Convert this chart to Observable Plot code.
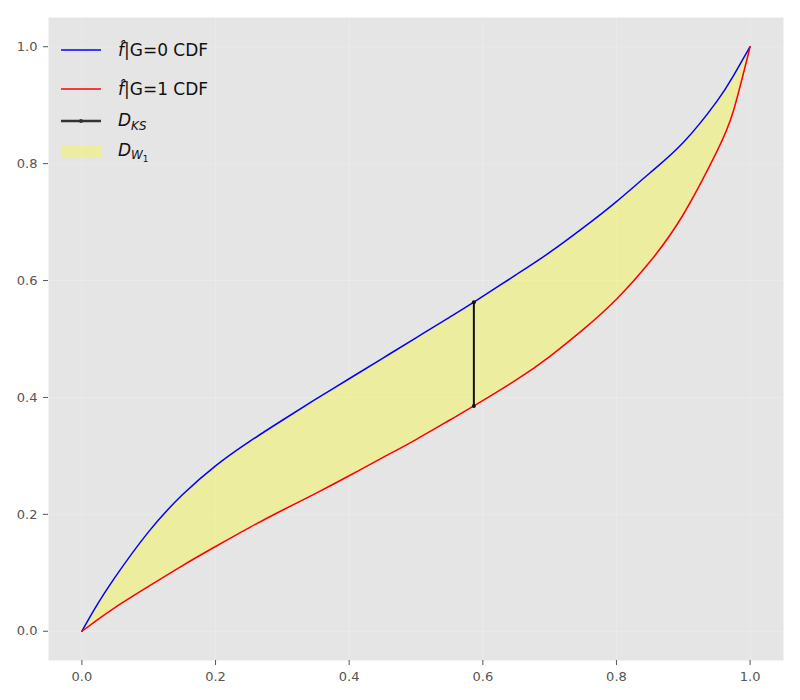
<!DOCTYPE html>
<html>
<head>
<meta charset="utf-8">
<script src="https://cdn.jsdelivr.net/npm/d3@7"></script>
<script src="https://cdn.jsdelivr.net/npm/@observablehq/plot@0.6"></script>
<style>
  body { margin: 0; background: #fff; font-family: "DejaVu Sans", sans-serif; }
  #wrap { position: relative; width: 800px; height: 700px; }
  #legend { position: absolute; left: 60px; top: 30px; font-family: "DejaVu Sans", sans-serif; font-size: 17px; color: #111; }
  .row { position: absolute; left: 0; height: 24px; display: flex; align-items: center; white-space: nowrap; }
  .row svg { margin-right: 16px; }
  .m { font-style: italic; }
  sub { font-size: 70%; vertical-align: -0.3em; }
  sub sub { font-size: 75%; vertical-align: -0.3em; font-style: normal; }
</style>
</head>
<body>
<div id="wrap">
  <div id="chart"></div>
  <div id="legend">
    <div class="row" style="top:8px"><svg width="42" height="10"><line x1="1" x2="41" y1="5" y2="5" stroke="blue" stroke-width="1.5"/></svg><span><span class="m">f&#770;</span>|G=0 CDF</span></div>
    <div class="row" style="top:47px"><svg width="42" height="10"><line x1="1" x2="41" y1="5" y2="5" stroke="red" stroke-width="1.5"/></svg><span><span class="m">f&#770;</span>|G=1 CDF</span></div>
    <div class="row" style="top:79px"><svg width="42" height="10"><line x1="1" x2="41" y1="5" y2="5" stroke="#333" stroke-width="2.5"/><circle cx="21" cy="5" r="2" fill="#333"/></svg><span><span class="m">D</span><sub class="m">KS</sub></span></div>
    <div class="row" style="top:110px"><svg width="42" height="14"><rect x="1" y="1" width="40" height="12" fill="yellow" fill-opacity="0.3"/></svg><span><span class="m">D</span><sub class="m">W<sub>1</sub></sub></span></div>
  </div>
</div>
<script>
const xs    = [0, 0.02, 0.05, 0.1, 0.15, 0.2, 0.25, 0.3, 0.35, 0.4, 0.45, 0.5, 0.55, 0.5866, 0.65, 0.7, 0.75, 0.8, 0.85, 0.9, 0.95, 0.975, 1];
const cdfG0 = [0, 0.040, 0.093, 0.1705, 0.233, 0.283, 0.324, 0.361, 0.397, 0.432, 0.467, 0.502, 0.537, 0.563, 0.610, 0.648, 0.690, 0.735, 0.784, 0.836, 0.906, 0.950, 1];
const cdfG1 = [0, 0.017, 0.041, 0.077, 0.112, 0.145, 0.177, 0.207, 0.236, 0.266, 0.297, 0.328, 0.361, 0.3855, 0.430, 0.470, 0.516, 0.568, 0.632, 0.713, 0.820, 0.890, 1];
const ksX = 0.5866;
const ksTop = 0.563;
const ksBottom = 0.3855;
const xTicks = [0, 0.2, 0.4, 0.6, 0.8, 1.0];
const yTicks = [0, 0.2, 0.4, 0.6, 0.8, 1.0];

const data = xs.map((x, i) => ({x, g0: cdfG0[i], g1: cdfG1[i]}));
const ks = [{x: ksX, y: ksBottom}, {x: ksX, y: ksTop}];

const chart = Plot.plot({
  width: 800,
  height: 700,
  marginLeft: 48,
  marginRight: 17,
  marginTop: 17,
  marginBottom: 40,
  style: {fontFamily: "DejaVu Sans, sans-serif", fontSize: "13px", color: "#555", background: "white"},
  x: {domain: [-0.05, 1.05], label: null},
  y: {domain: [-0.05, 1.05], label: null},
  marks: [
    Plot.frame({fill: "#e5e5e5", stroke: null}),
    Plot.gridX(xTicks, {stroke: "white", strokeOpacity: 0.2, strokeWidth: 1}),
    Plot.gridY(yTicks, {stroke: "white", strokeOpacity: 0.2, strokeWidth: 1}),
    Plot.areaY(data, {x: "x", y1: "g1", y2: "g0", fill: "yellow", fillOpacity: 0.3, curve: "natural"}),
    Plot.line(data, {x: "x", y: "g0", stroke: "blue", strokeWidth: 1.5, curve: "natural"}),
    Plot.line(data, {x: "x", y: "g1", stroke: "red", strokeWidth: 1.5, curve: "natural"}),
    Plot.line(ks, {x: "x", y: "y", stroke: "#111", strokeWidth: 2}),
    Plot.dot(ks, {x: "x", y: "y", r: 2, fill: "#111"}),
    Plot.axisX(xTicks, {tickSize: 5, tickPadding: 6, stroke: "#555", fill: "#555", fontSize: 13, tickFormat: d3.format(".1f"), label: null}),
    Plot.axisY(yTicks, {tickSize: 5, tickPadding: 6, stroke: "#555", fill: "#555", fontSize: 13, tickFormat: d3.format(".1f"), label: null})
  ]
});
document.getElementById("chart").appendChild(chart);
</script>
</body>
</html>
